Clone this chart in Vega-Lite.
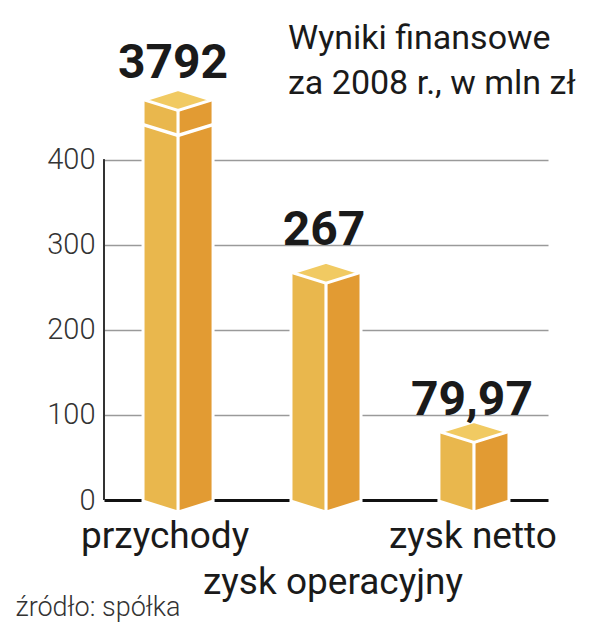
{
  "$schema": "https://vega.github.io/schema/vega-lite/v6.json",
  "width": 444,
  "height": 400,
  "autosize": {"type": "none"},
  "padding": {"left": 104, "top": 100, "right": 51, "bottom": 140},
  "background": "white",
  "config": {
    "view": {"stroke": null},
    "font": "Roboto",
    "locale": {"number": {"decimal": ",", "thousands": " ", "grouping": [3], "currency": ["", " zł"]}}
  },
  "title": {
    "text": ["Wyniki finansowe", "za 2008 r., w mln zł"],
    "anchor": "start",
    "frame": "group",
    "dx": 184,
    "dy": 67,
    "fontSize": 34,
    "fontWeight": "normal",
    "color": "#1a1a1a",
    "lineHeight": 45,
    "offset": 6
  },
  "data": {
    "values": [
      {"kategoria": "przychody", "wartosc": 3792},
      {"kategoria": "zysk operacyjny", "wartosc": 267},
      {"kategoria": "zysk netto", "wartosc": 79.97}
    ]
  },
  "encoding": {
    "x": {
      "field": "kategoria",
      "type": "nominal",
      "sort": null,
      "scale": {"paddingInner": 0.547, "paddingOuter": 0.274},
      "axis": {
        "domain": false,
        "ticks": false,
        "labelAngle": 0,
        "labelFontSize": 37,
        "labelColor": "#1a1a1a",
        "labelBaseline": "top",
        "labelPadding": 18,
        "labelLineHeight": 46,
        "labelLimit": 0,
        "labelOffset": {"condition": [{"test": "datum.value == 'przychody'", "value": -13}, {"test": "datum.value == 'zysk operacyjny'", "value": 7}], "value": -1},
        "labelExpr": "datum.value == 'zysk operacyjny' ? [' ', datum.value] : datum.value",
        "title": "źródło: spółka",
        "titleFontSize": 27,
        "titleFontWeight": 300,
        "titleColor": "#333333",
        "titleX": -89,
        "titleY": 115,
        "titleAlign": "left",
        "titleAnchor": "start",
        "titleBaseline": "alphabetic"
      }
    }
  },
  "layer": [
    {
      "mark": {"type": "rule", "color": "#333333", "strokeWidth": 2},
      "encoding": {
        "x": {"value": 0},
        "y": {"datum": 0, "type": "quantitative"},
        "y2": {"datum": 400}
      }
    },
    {
      "mark": {"type": "bar", "color": "white", "stroke": "white", "strokeWidth": 6},
      "encoding": {
        "y": {
          "field": "wartosc",
          "type": "quantitative",
          "scale": {"domain": [0, 470], "clamp": true, "nice": false},
          "axis": {
            "values": [0, 100, 200, 300, 400],
            "domain": false,
            "ticks": false,
            "grid": true,
            "gridColor": {"condition": {"test": "datum.value === 0", "value": "#111111"}, "value": "#9a9a9a"},
            "gridWidth": {"condition": {"test": "datum.value === 0", "value": 3}, "value": 1.5},
            "labelFontSize": 29,
            "labelFontWeight": 300,
            "labelColor": "#333333",
            "labelPadding": 9,
            "title": null
          }
        }
      }
    },
    {
      "mark": {"type": "bar", "color": "#E9B74D"},
      "encoding": {
        "y": {"field": "wartosc", "type": "quantitative"},
        "xOffset": {"datum": "L", "type": "nominal", "scale": {"domain": ["L", "R"], "paddingInner": 0.09, "paddingOuter": 0}}
      }
    },
    {
      "mark": {"type": "bar", "color": "#E29B33"},
      "encoding": {
        "y": {"field": "wartosc", "type": "quantitative"},
        "xOffset": {"datum": "R", "type": "nominal"}
      }
    },
    {
      "mark": {"type": "point", "shape": "M-1,0L-0.047,0.3L-0.047,0Z", "filled": true, "fill": "#E9B74D", "strokeWidth": 0, "opacity": 1, "size": 4489},
      "encoding": {"y": {"datum": 0, "type": "quantitative"}}
    },
    {
      "mark": {"type": "point", "shape": "M0.047,0L0.047,0.3L1,0Z", "filled": true, "fill": "#E29B33", "strokeWidth": 0, "opacity": 1, "size": 4489},
      "encoding": {"y": {"datum": 0, "type": "quantitative"}}
    },
    {
      "mark": {"type": "point", "shape": "M-1,0L0,-0.31L1,0L0,0.31Z", "filled": true, "fill": "#F1CA62", "stroke": "white", "strokeWidth": 3, "opacity": 1, "size": 4489},
      "encoding": {"y": {"field": "wartosc", "type": "quantitative"}}
    },
    {
      "transform": [{"filter": "datum.wartosc > 470"}],
      "mark": {"type": "point", "shape": "M-1,0L0,0.31L1,0", "filled": false, "fill": null, "stroke": "white", "strokeWidth": 3.5, "opacity": 1, "size": 4900},
      "encoding": {"y": {"datum": 441, "type": "quantitative"}}
    },
    {
      "mark": {
        "type": "text",
        "fontSize": 48,
        "fontWeight": "bold",
        "baseline": "alphabetic",
        "color": "#1a1a1a",
        "dx": {"expr": "datum.kategoria == 'przychody' ? -5 : -2"},
        "dy": {"expr": "datum.kategoria == 'zysk operacyjny' ? -28 : datum.kategoria == 'zysk netto' ? -17 : -22"}
      },
      "encoding": {
        "y": {"field": "wartosc", "type": "quantitative"},
        "text": {"field": "wartosc", "type": "quantitative", "format": "~g"}
      }
    }
  ]
}
